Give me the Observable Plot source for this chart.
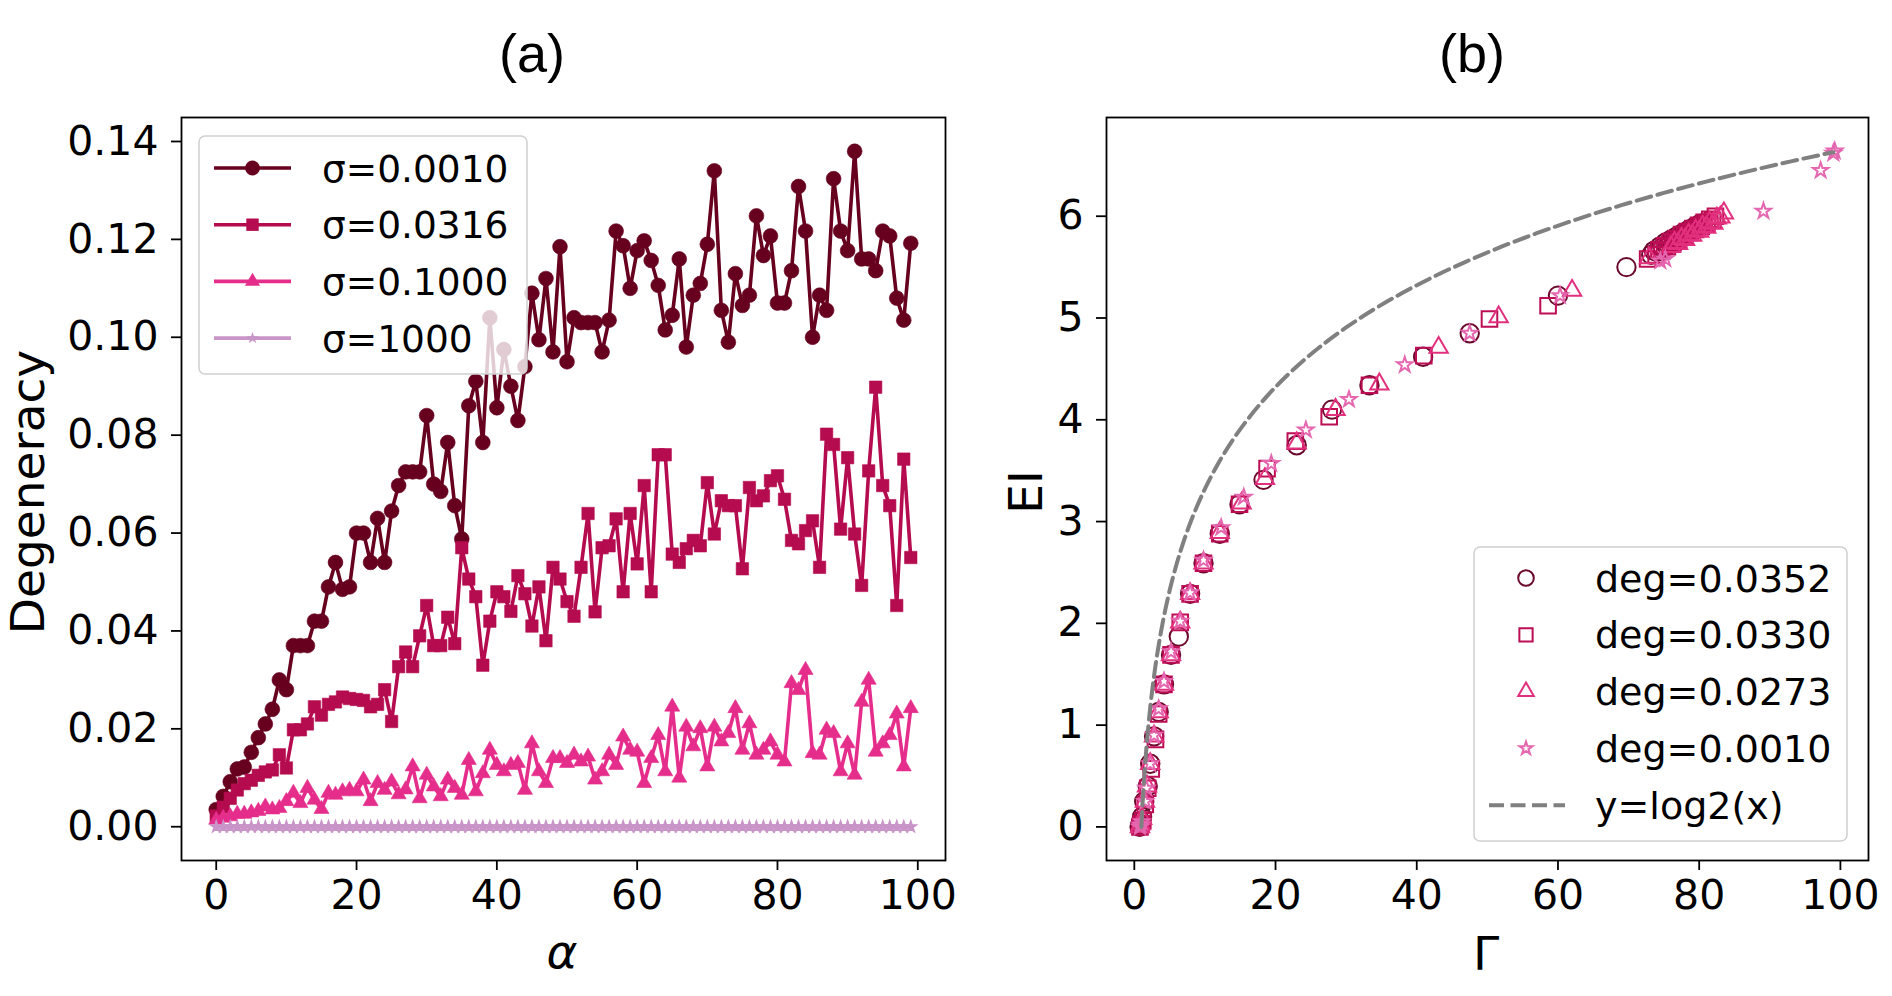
<!DOCTYPE html>
<html><head><meta charset="utf-8">
<script src="https://cdn.jsdelivr.net/npm/d3@7"></script>
<script src="https://cdn.jsdelivr.net/npm/@observablehq/plot@0.6"></script>
<style>
html,body{margin:0;padding:0;background:#fff;}
#wrap{position:relative;width:1892px;height:996px;overflow:hidden;background:#fff;}
#pa,#pb{position:absolute;top:0;}
#pa{left:0;} #pb{left:946px;}
#wrap svg{overflow:visible;}
</style></head><body><div id="wrap"><div id="pa"></div><div id="pb"></div></div>
<script>
// ---------- Panel (a) data ----------
const alphaVals = [0,1,2,3,4,5,6,7,8,9,10,11,12,13,14,15,16,17,18,19,20,21,22,23,24,25,26,27,28,29,30,31,32,33,34,35,36,37,38,39,40,41,42,43,44,45,46,47,48,49,50,51,52,53,54,55,56,57,58,59,60,61,62,63,64,65,66,67,68,69,70,71,72,73,74,75,76,77,78,79,80,81,82,83,84,85,86,87,88,89,90,91,92,93,94,95,96,97,98,99];

const degSigma0010 = [0.0035,0.0062,0.0092,0.0118,0.0122,0.0152,0.0182,0.021,0.024,0.030,
0.028,0.037,0.037,0.037,0.042,0.042,0.049,0.054,0.0485,0.049,
0.060,0.060,0.054,0.063,0.054,0.0645,0.0697,0.0725,0.0725,0.0725,
0.084,0.070,0.0685,0.0785,0.0656,0.0588,0.086,0.091,0.0785,0.104,
0.0856,0.0975,0.090,0.083,0.094,0.109,0.0995,0.112,0.097,0.1185,
0.095,0.104,0.103,0.103,0.103,0.097,0.1035,0.1217,0.1187,0.110,
0.1177,0.1197,0.1157,0.1106,0.1015,0.1045,0.116,0.098,0.1086,0.111,
0.119,0.134,0.1055,0.099,0.113,0.1065,0.1086,0.1248,0.1167,0.1207,
0.107,0.107,0.1136,0.1308,0.1217,0.100,0.1086,0.1055,0.1324,0.1217,
0.1177,0.138,0.116,0.116,0.1136,0.1217,0.1207,0.108,0.1035,0.1192];

const degSigma0316 = [0.0022,0.004,0.0058,0.0075,0.0088,0.0095,0.0105,0.0112,0.0116,0.0147,
0.012,0.0198,0.0198,0.021,0.0245,0.0228,0.025,0.0255,0.0265,0.0262,
0.026,0.0258,0.0245,0.025,0.028,0.0215,0.0327,0.0357,0.0327,0.039,
0.0452,0.037,0.037,0.0428,0.0374,0.057,0.0506,0.047,0.033,0.042,
0.048,0.047,0.044,0.0513,0.0476,0.041,0.049,0.038,0.053,0.0506,
0.046,0.043,0.053,0.064,0.0439,0.057,0.0574,0.0629,0.048,0.064,
0.0537,0.0697,0.048,0.076,0.076,0.0557,0.054,0.0568,0.0585,0.0574,
0.0703,0.0598,0.0666,0.0656,0.0656,0.0527,0.0693,0.0666,0.0676,0.0707,
0.0717,0.0669,0.0585,0.0578,0.0605,0.0625,0.053,0.0802,0.0781,0.0608,
0.0754,0.0598,0.0493,0.0727,0.0898,0.0697,0.0656,0.0452,0.0751,0.055];

const degSigma1000 = [0.0014,0.0018,0.0021,0.0026,0.0026,0.0029,0.0032,0.0041,0.0035,0.0038,
0.0052,0.0069,0.0048,0.0079,0.0055,0.0036,0.0069,0.0065,0.0072,0.0075,
0.0072,0.0096,0.0052,0.0089,0.0075,0.0092,0.0066,0.0076,0.0123,0.0058,
0.0106,0.0082,0.0062,0.0096,0.0079,0.0065,0.0136,0.0072,0.0109,0.0157,
0.0126,0.0113,0.0126,0.013,0.0075,0.017,0.0113,0.0089,0.014,0.014,
0.013,0.0147,0.0133,0.0143,0.0096,0.0113,0.0147,0.0126,0.0184,0.0157,
0.0153,0.0089,0.014,0.0187,0.0113,0.0245,0.0100,0.0204,0.0164,0.0201,
0.0123,0.0204,0.0174,0.0191,0.0242,0.0157,0.0211,0.0147,0.0157,0.0174,
0.0147,0.0133,0.0293,0.0279,0.032,0.015,0.0147,0.0198,0.0191,0.0113,
0.017,0.0106,0.0255,0.030,0.0153,0.017,0.0187,0.0231,0.0123,0.0242];

const degSigmaBig = [0,0,0,0,0,0,0,0,0,0, 0,0,0,0,0,0,0,0,0,0, 0,0,0,0,0,0,0,0,0,0, 0,0,0,0,0,0,0,0,0,0, 0,0,0,0,0,0,0,0,0,0,
0,0,0,0,0,0,0,0,0,0, 0,0,0,0,0,0,0,0,0,0, 0,0,0,0,0,0,0,0,0,0, 0,0,0,0,0,0,0,0,0,0, 0,0,0,0,0,0,0,0,0,0];

const seriesNamesA = ["σ=0.0010", "σ=0.0316", "σ=0.1000", "σ=1000"];
const xTicksA = [0, 20, 40, 60, 80, 100];
const yTicksA = [0, 0.02, 0.04, 0.06, 0.08, 0.10, 0.12, 0.14];

// ---------- Panel (b) data ----------
const gammaDeg0352 = [0.75,0.85,0.95,1.1,1.4,1.9,2.25,2.8,3.45,4.2,5.2,6.3,7.9,9.8,12.1,14.9,18.3,23.0,28.0,33.3,40.9,47.5,60.0,69.7,
  73.2,73.6,74.0,74.4,74.8,75.2,75.6,76.0,76.4,76.8,77.2,77.6,78.0,78.4,78.8,79.2,79.6,80.0,80.5];
const eiDeg0352    = [0.0,0.02,0.05,0.1,0.25,0.4,0.62,0.89,1.13,1.40,1.69,1.87,2.29,2.59,2.88,3.17,3.41,3.75,4.10,4.34,4.62,4.85,5.22,5.50,
  5.62,5.66,5.65,5.70,5.69,5.74,5.72,5.77,5.76,5.80,5.79,5.83,5.82,5.86,5.85,5.89,5.88,5.92,5.93];

const gammaDeg0330 = [0.8,0.95,1.2,1.55,1.9,2.4,3.0,3.45,4.2,5.2,6.5,7.9,9.8,12.1,14.9,18.8,22.8,27.6,33.3,41.0,50.3,58.6,72.7,
  73.9,74.3,74.7,75.1,75.5,75.9,76.3,76.7,77.1,77.5,77.9,78.3,78.7,79.1,79.5,79.9,80.3,80.7,81.1,81.5,81.9,82.3];
const eiDeg0330    = [0.0,0.03,0.06,0.22,0.38,0.57,0.86,1.11,1.40,1.69,2.01,2.29,2.59,2.88,3.17,3.52,3.79,4.03,4.34,4.63,4.99,5.12,5.58,
  5.62,5.67,5.66,5.71,5.70,5.75,5.74,5.78,5.77,5.82,5.81,5.85,5.84,5.88,5.87,5.91,5.90,5.94,5.93,5.97,5.96,6.00];

const gammaDeg0273 = [0.8,0.9,1.1,1.5,1.8,2.25,2.8,3.45,4.2,5.2,6.5,7.9,9.8,12.1,15.2,18.5,23.0,28.5,34.7,43.1,51.6,62.0,72.9,
  76.0,76.5,77.0,77.5,78.0,78.5,79.0,79.5,80.0,80.5,81.0,81.5,82.0,82.5,83.0,83.5];
const eiDeg0273    = [0.0,0.03,0.08,0.25,0.4,0.62,0.89,1.13,1.40,1.69,2.01,2.29,2.59,2.89,3.18,3.42,3.77,4.10,4.35,4.71,5.01,5.27,5.59,
  5.70,5.74,5.73,5.78,5.77,5.82,5.81,5.86,5.85,5.90,5.89,5.94,5.93,5.98,5.99,6.03];

const gammaDeg0010 = [0.8,0.9,1.05,1.55,1.7,2.25,2.8,3.45,4.2,5.2,6.5,7.9,9.8,12.3,15.5,19.4,24.3,30.4,38.3,47.5,60.3,74.5,75.2,89.1,97.2,99.0,99.2];
const eiDeg0010    = [0.0,0.02,0.05,0.25,0.38,0.62,0.90,1.16,1.43,1.72,2.02,2.30,2.62,2.94,3.24,3.57,3.90,4.20,4.54,4.85,5.22,5.56,5.58,6.05,6.45,6.62,6.64];

const log2X = [1,1.1,1.2,1.35,1.5,1.7,2,2.3,2.6,3,3.5,4,4.5,5,6,7,8,9,10,12,14,16,18,20,23,26,30,34,38,42,47,52,57,63,69,75,81,87,93,99];

const seriesNamesB = ["deg=0.0352", "deg=0.0330", "deg=0.0273", "deg=0.0010", "y=log2(x)"];
const xTicksB = [0, 20, 40, 60, 80, 100];
const yTicksB = [0, 1, 2, 3, 4, 5, 6];

// ---------- styles ----------
const colA = ["#67001f", "#b50b4f", "#e52d8c", "#c994c7"];
const symA = ["circle", "square", "triangle", "star"];
const rA = [7.4, 7.0, 5.6, 3.8];
const colB = ["#6b0a2c", "#bd0d55", "#e2307f", "#e467b0"];
const symB = ["circle", "square", "triangle", "star"];
const rB = [9.2, 8.8, 6.8, 4.8];
const FONT = "DejaVu Sans";

// ---------- Panel (a) ----------
const seriesA = [degSigma0010, degSigma0316, degSigma1000, degSigmaBig];
const marksA = [];
seriesA.forEach((vals, k) => {
  const rows = alphaVals.map((a, i) => ({a, v: vals[i]}));
  marksA.push(Plot.line(rows, {x: "a", y: "v", stroke: colA[k], strokeWidth: 3.6}));
  marksA.push(Plot.dot(rows, {x: "a", y: "v", symbol: symA[k], r: rA[k], fill: colA[k], stroke: colA[k], strokeWidth: k === 3 ? 1.2 : 0.6}));
});

const chartA = Plot.plot({
  width: 946, height: 996,
  marginLeft: 181, marginRight: 1, marginTop: 117, marginBottom: 136,
  style: {fontFamily: FONT, fontSize: "41px", background: "transparent", color: "black", overflow: "visible"},
  x: {domain: [-4.95, 103.95], label: null},
  y: {domain: [-0.0069, 0.1449], label: null},
  marks: [
    ...marksA,
    Plot.frame({stroke: "black", strokeWidth: 1.8}),
    Plot.axisX({ticks: xTicksA, tickSize: 10, tickPadding: 9, tickFormat: d => String(d), label: null, fontSize: 41, strokeWidth: 1.8}),
    Plot.axisY({ticks: yTicksA, tickSize: 10, tickPadding: 13, tickFormat: d => d.toFixed(2), label: null, fontSize: 41, strokeWidth: 1.8})
  ]
});
document.getElementById("pa").appendChild(chartA);

// ---------- Panel (b) ----------
const gammasB = [gammaDeg0352, gammaDeg0330, gammaDeg0273, gammaDeg0010];
const eisB = [eiDeg0352, eiDeg0330, eiDeg0273, eiDeg0010];
const marksB = [];
gammasB.forEach((gs, k) => {
  const rows = gs.map((g, i) => ({g, e: eisB[k][i]}));
  marksB.push(Plot.dot(rows, {x: "g", y: "e", symbol: symB[k], r: rB[k], fill: "none", stroke: colB[k], strokeWidth: 2}));
});
const logRows = log2X.map(x => ({x, y: Math.log2(x)}));

const chartB = Plot.plot({
  width: 946, height: 996,
  marginLeft: 160, marginRight: 24, marginTop: 117, marginBottom: 136,
  style: {fontFamily: FONT, fontSize: "41px", background: "transparent", color: "black", overflow: "visible"},
  x: {domain: [-3.94, 103.98], label: null},
  y: {domain: [-0.33, 6.97], label: null},
  marks: [
    ...marksB,
    Plot.line(logRows, {x: "x", y: "y", stroke: "#808080", strokeWidth: 4, strokeDasharray: "15,6.5", curve: "monotone-x"}),
    Plot.frame({stroke: "black", strokeWidth: 1.8}),
    Plot.axisX({ticks: xTicksB, tickSize: 10, tickPadding: 9, tickFormat: d => String(d), label: null, fontSize: 41, strokeWidth: 1.8}),
    Plot.axisY({ticks: yTicksB, tickSize: 10, tickPadding: 13, tickFormat: d => String(d), label: null, fontSize: 41, strokeWidth: 1.8})
  ]
});
document.getElementById("pb").appendChild(chartB);

// ---------- annotations: titles, axis labels, legends ----------
function symPath(name, r) {
  const map = {circle: d3.symbolCircle, square: d3.symbolSquare, triangle: d3.symbolTriangle, star: d3.symbolStar};
  return d3.symbol(map[name], Math.PI * r * r)();
}

const svgA = d3.select(chartA);
svgA.append("text").attr("x", 532).attr("y", 72).attr("text-anchor", "middle")
  .style("font-family", "Liberation Sans").style("font-size", "54px").attr("fill", "black").text("(a)");
svgA.append("text").attr("transform", "translate(44,492) rotate(-90)").attr("text-anchor", "middle")
  .style("font-family", FONT).style("font-size", "47px").attr("fill", "black").text("Degeneracy");
svgA.append("text").attr("x", 562).attr("y", 968).attr("text-anchor", "middle")
  .style("font-family", FONT).style("font-style", "italic").style("font-size", "47px").attr("fill", "black").text("α");

const legA = svgA.append("g");
legA.append("rect").attr("x", 199).attr("y", 136).attr("width", 328).attr("height", 238).attr("rx", 6)
  .attr("fill", "white").attr("fill-opacity", 0.8).attr("stroke", "#d0d0d0").attr("stroke-width", 1.5);
seriesNamesA.forEach((name, k) => {
  const y = 168 + k * 56.7;
  legA.append("line").attr("x1", 214).attr("x2", 291).attr("y1", y).attr("y2", y).attr("stroke", colA[k]).attr("stroke-width", 3.6);
  legA.append("path").attr("d", symPath(symA[k], rA[k])).attr("transform", `translate(252.5,${y})`).attr("fill", colA[k]);
  legA.append("text").attr("x", 322).attr("y", y).attr("dy", "0.36em").attr("text-anchor", "start")
    .style("font-family", FONT).style("font-size", "37.5px").attr("fill", "black").text(name);
});

const svgB = d3.select(chartB);
svgB.append("text").attr("x", 526).attr("y", 72).attr("text-anchor", "middle")
  .style("font-family", "Liberation Sans").style("font-size", "54px").attr("fill", "black").text("(b)");
svgB.append("text").attr("transform", "translate(96,492) rotate(-90)").attr("text-anchor", "middle")
  .style("font-family", FONT).style("font-size", "47px").attr("fill", "black").text("EI");
svgB.append("text").attr("x", 540).attr("y", 970).attr("text-anchor", "middle")
  .style("font-family", FONT).style("font-size", "47px").attr("fill", "black").text("Γ");

const legB = svgB.append("g");
legB.append("rect").attr("x", 528).attr("y", 547).attr("width", 373).attr("height", 294).attr("rx", 6)
  .attr("fill", "white").attr("fill-opacity", 0.8).attr("stroke", "#d0d0d0").attr("stroke-width", 1.5);
seriesNamesB.forEach((name, k) => {
  const y = 578 + k * 56.8;
  if (k < 4) {
    legB.append("path").attr("d", symPath(symB[k], rB[k] * 0.85)).attr("transform", `translate(580,${y})`)
      .attr("fill", "none").attr("stroke", colB[k]).attr("stroke-width", 2);
  } else {
    legB.append("line").attr("x1", 543).attr("x2", 619).attr("y1", y).attr("y2", y)
      .attr("stroke", "#808080").attr("stroke-width", 4).attr("stroke-dasharray", "15,6.5");
  }
  legB.append("text").attr("x", 649).attr("y", y).attr("dy", "0.36em").attr("text-anchor", "start")
    .style("font-family", FONT).style("font-size", "38px").attr("fill", "black").text(name);
});
</script></body></html>
